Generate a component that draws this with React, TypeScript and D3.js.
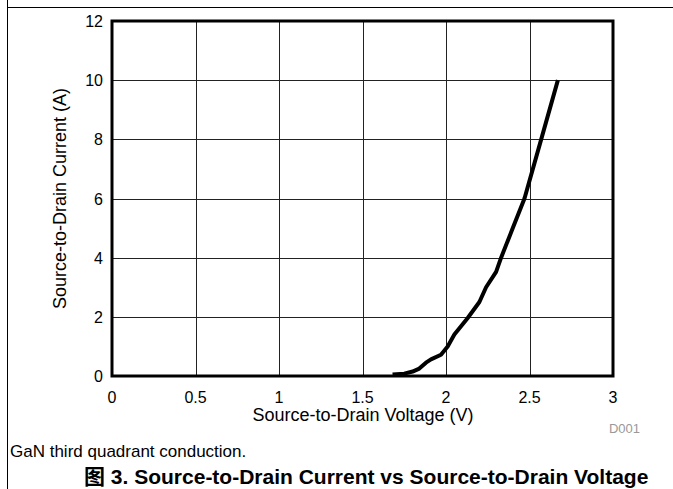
import React from "react";
import * as d3 from "d3";

const voltage = [1.68, 1.75, 1.8, 1.84, 1.88, 1.91, 1.97, 2.01, 2.05, 2.13, 2.2, 2.24, 2.3, 2.33, 2.4, 2.47, 2.57, 2.67];
const current = [0.05, 0.08, 0.15, 0.25, 0.45, 0.56, 0.72, 1.0, 1.4, 1.96, 2.5, 3.0, 3.52, 4.0, 5.0, 6.0, 8.0, 10.0];
const xTicks = [0, 0.5, 1, 1.5, 2, 2.5, 3];
const yTicks = [0, 2, 4, 6, 8, 10, 12];

const W = 673;
const H = 489;
const L = 112, R = 613, T = 21, B = 376;
const FONT = "'Liberation Sans', Arial, sans-serif";

export default function App() {
  const x = d3.scaleLinear().domain([0, 3]).range([L, R]);
  const y = d3.scaleLinear().domain([0, 12]).range([B, T]);
  const pts: [number, number][] = voltage.map((v, i) => [v, current[i]]);
  const line = d3
    .line<[number, number]>()
    .x((d) => x(d[0]))
    .y((d) => y(d[1]));

  return (
    <svg
      width={W}
      height={H}
      style={{ position: "absolute", left: 0, top: 0, background: "#fff" }}
      fontFamily={FONT}
    >
      <rect x={0} y={0} width={W} height={H} fill="#fff" />
      {/* frame lines */}
      <line x1={7.5} y1={0} x2={7.5} y2={H} stroke="#000" strokeWidth={1} />
      <line x1={7} y1={7.5} x2={W} y2={7.5} stroke="#000" strokeWidth={1} />

      {/* gridlines */}
      {xTicks.slice(1, -1).map((t) => (
        <line key={"gx" + t} x1={Math.round(x(t)) + 0.5} x2={Math.round(x(t)) + 0.5} y1={T} y2={B} stroke="#222" strokeWidth={1} />
      ))}
      {yTicks.slice(1, -1).map((t) => (
        <line key={"gy" + t} y1={Math.round(y(t)) + 0.5} y2={Math.round(y(t)) + 0.5} x1={L} x2={R} stroke="#222" strokeWidth={1} />
      ))}

      {/* plot border */}
      <rect x={L} y={T} width={R - L} height={B - T} fill="none" stroke="#000" strokeWidth={3} />

      {/* curve */}
      <path d={line(pts) || ""} fill="none" stroke="#000" strokeWidth={4} strokeLinejoin="round" />

      {/* tick labels */}
      {xTicks.map((t) => (
        <text key={"tx" + t} x={x(t)} y={403} textAnchor="middle" fontSize={16} fill="#000">
          {t}
        </text>
      ))}
      {yTicks.map((t) => (
        <text key={"ty" + t} x={103} y={y(t) + 6} textAnchor="end" fontSize={16} fill="#000">
          {t}
        </text>
      ))}

      {/* axis titles */}
      <text x={363} y={421} textAnchor="middle" fontSize={18} fill="#000">
        Source-to-Drain Voltage (V)
      </text>
      <text
        transform={`translate(66, ${(T + B) / 2}) rotate(-90)`}
        textAnchor="middle"
        fontSize={18}
        fill="#000"
      >
        Source-to-Drain Current (A)
      </text>

      <text x={640} y={433} textAnchor="end" fontSize={13} fill="#999">
        D001
      </text>

      <text x={10} y={457} fontSize={17} fill="#000">
        GaN third quadrant conduction.
      </text>
      <text x={84} y={484} fontSize={21} fontWeight="bold" fill="#000">
        <tspan fontFamily="'Noto Sans CJK SC', sans-serif">图</tspan> 3. Source-to-Drain Current vs Source-to-Drain Voltage
      </text>
    </svg>
  );
}
